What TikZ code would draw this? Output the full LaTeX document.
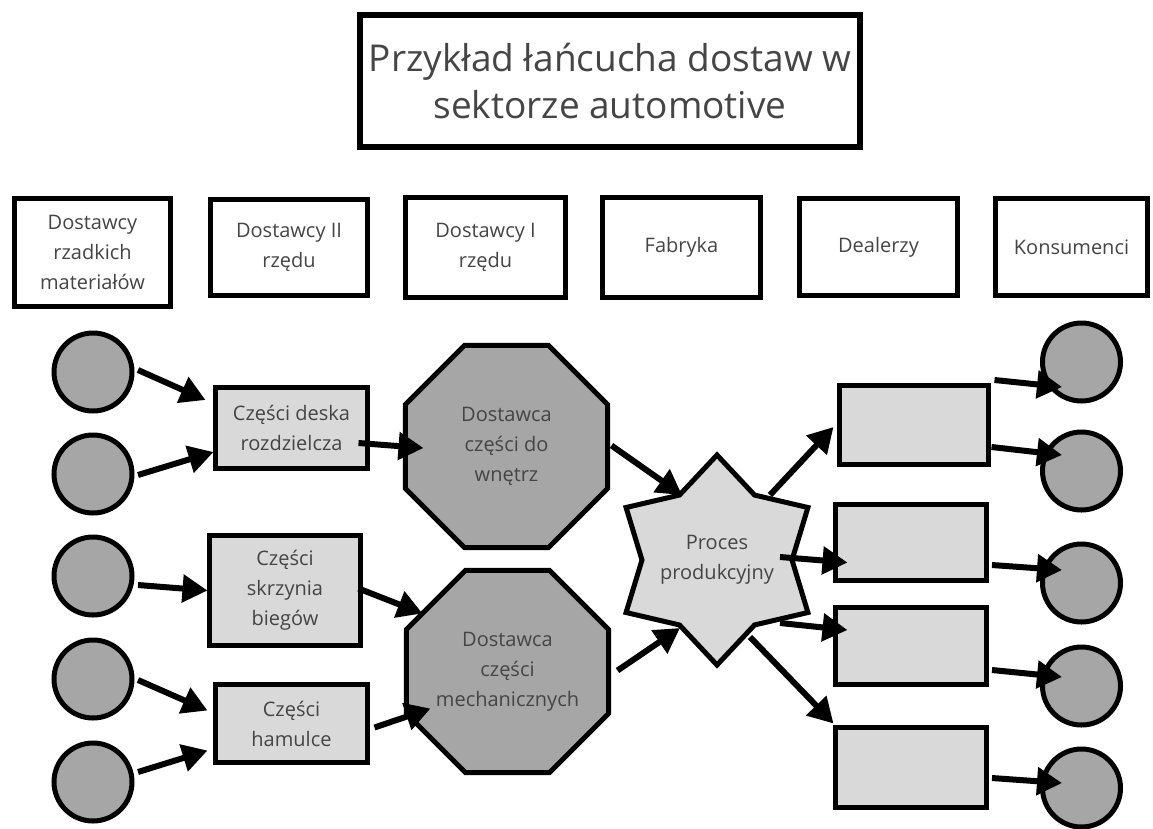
\documentclass[tikz,border=0pt]{standalone}
\usepackage{fontspec}
\setmainfont{Open Sans}
\usetikzlibrary{shapes.geometric,arrows.meta}
\definecolor{dk}{HTML}{A6A6A6}
\definecolor{lt}{HTML}{D9D9D9}
\definecolor{txt}{HTML}{454545}
\tikzset{
  base/.style={text=txt, font=\fontsize{20}{30}\selectfont, align=center, inner sep=0pt, outer sep=0pt},
  hdr/.style={base, draw=black, line width=5pt, fill=white},
  titlebox/.style={base, draw=black, line width=6pt, fill=white, font=\fontsize{37}{47}\selectfont},
  dot/.style={base, circle, draw=black, line width=5pt, fill=dk, minimum size=78pt},
  part/.style={base, rectangle, draw=black, line width=5pt, fill=lt},
  octa/.style={base, regular polygon, regular polygon sides=8, draw=black, line width=5pt, fill=dk, minimum size=219pt},
  starbox/.style={base, star, star points=6, star point ratio=1.4, draw=black, line width=5pt, fill=lt, minimum size=210pt},
  arr/.style={line width=6pt, -{Triangle[length=25pt,width=27pt]}}
}
\begin{document}
\begin{tikzpicture}[x=1pt,y=-1pt]
\useasboundingbox[fill=white] (0,0) rectangle (1153,828);
% title
\node[titlebox, minimum width=500pt, minimum height=132pt] (title) at (610,81) {Przykład łańcucha dostaw w\\sektorze automotive};
% headers
\node[hdr, minimum width=156pt, minimum height=108pt] (h1) at (92.5,252.5) {Dostawcy\\rzadkich\\materiałów};
\node[hdr, minimum width=157pt, minimum height=96pt] (h2) at (289,247.5) {Dostawcy II\\rzędu};
\node[hdr, minimum width=160pt, minimum height=100pt] (h3) at (485.5,247.5) {Dostawcy I\\rzędu};
\node[hdr, minimum width=158pt, minimum height=100pt] (h4) at (681.5,247.5) {Fabryka};
\node[hdr, minimum width=158pt, minimum height=97pt] (h5) at (878.5,247) {Dealerzy};
\node[hdr, minimum width=152pt, minimum height=97pt] (h6) at (1071.5,247) {Konsumenci};
% left circles
\node[dot] (c1) at (93,372) {};
\node[dot] (c2) at (93,474) {};
\node[dot] (c3) at (93,576) {};
\node[dot] (c4) at (93,679) {};
\node[dot] (c5) at (93,782) {};
% tier 2 parts
\node[part, minimum width=152pt, minimum height=81pt] (b1) at (291.5,428) {Części deska\\rozdzielcza};
\node[part, minimum width=151pt, minimum height=110pt] (b2) at (285,590.5) {Części\\skrzynia\\biegów};
\node[part, minimum width=152pt, minimum height=78pt] (b3) at (291.5,723.5) {Części\\hamulce};
% tier 1
\node[octa] (o1) at (506.5,446.5) {Dostawca\\części do\\wnętrz};
\node[octa] (o2) at (507.5,671.5) {Dostawca\\części\\mechanicznych};
% factory
\node[starbox, label={[base]center:Proces\\produkcyjny}] (s) at (717,560) {};
% dealers
\node[part, minimum width=149pt, minimum height=79pt] (r1) at (914,425) {};
\node[part, minimum width=151pt, minimum height=76pt] (r2) at (911,542.5) {};
\node[part, minimum width=151pt, minimum height=77pt] (r3) at (911,646) {};
\node[part, minimum width=151pt, minimum height=80pt] (r4) at (911,767.5) {};
% consumers
\node[dot] (k1) at (1081.5,362) {};
\node[dot] (k2) at (1081.5,471) {};
\node[dot] (k3) at (1081.5,583) {};
\node[dot] (k4) at (1081.5,686) {};
\node[dot] (k5) at (1081.5,788) {};
% arrows
\draw[arr] ([shift={(45,-2)}]c1.center) -- ([shift={(-10,12.5)}]b1.north west);
\draw[arr] ([shift={(45,1)}]c2.center) -- ([shift={(-2,24)}]b1.west);
\draw[arr] ([shift={(45,9)}]c3.center) -- ([shift={(-2,0)}]b2.west);
\draw[arr] ([shift={(45,1)}]c4.center) -- ([shift={(-8,-13)}]b3.west);
\draw[arr] ([shift={(45,-10)}]c5.center) -- ([shift={(-8,27)}]b3.west);
\draw[arr] ([shift={(-9,15)}]b1.east) -- ([shift={(-83,1.5)}]o1.center);
\draw[arr] ([shift={(-2,-2)}]b2.east) -- ([shift={(-85,-58)}]o2.center);
\draw[arr] ([shift={(7,4)}]b3.east) -- ([shift={(-77,37)}]o2.center);
\draw[arr] ([shift={(105,-1)}]o1.center) -- ([shift={(-35,-65)}]s.center);
\draw[arr] ([shift={(110,-1)}]o2.center) -- ([shift={(-37,68)}]s.center);
\draw[arr] ([shift={(53,-65)}]s.center) -- ([shift={(-6,2)}]r1.west);
\draw[arr] ([shift={(63,-3)}]s.center) -- ([shift={(12,20)}]r2.west);
\draw[arr] ([shift={(63,63)}]s.center) -- ([shift={(12,-16)}]r3.west);
\draw[arr] ([shift={(33,77)}]s.center) -- ([shift={(-2,-4)}]r4.north west);
\draw[arr] ([shift={(6,-45)}]r1.east) -- ([shift={(-19.5,25)}]k1.center);
\draw[arr] ([shift={(3,22)}]r1.east) -- ([shift={(-19.5,-16)}]k2.center);
\draw[arr] ([shift={(5.5,22.5)}]r2.east) -- ([shift={(-19.5,-13)}]k3.center);
\draw[arr] ([shift={(5.5,24)}]r3.east) -- ([shift={(-19.5,-9)}]k4.center);
\draw[arr] ([shift={(5.5,10.5)}]r4.east) -- ([shift={(-19.5,-5)}]k5.center);
\end{tikzpicture}
\end{document}
